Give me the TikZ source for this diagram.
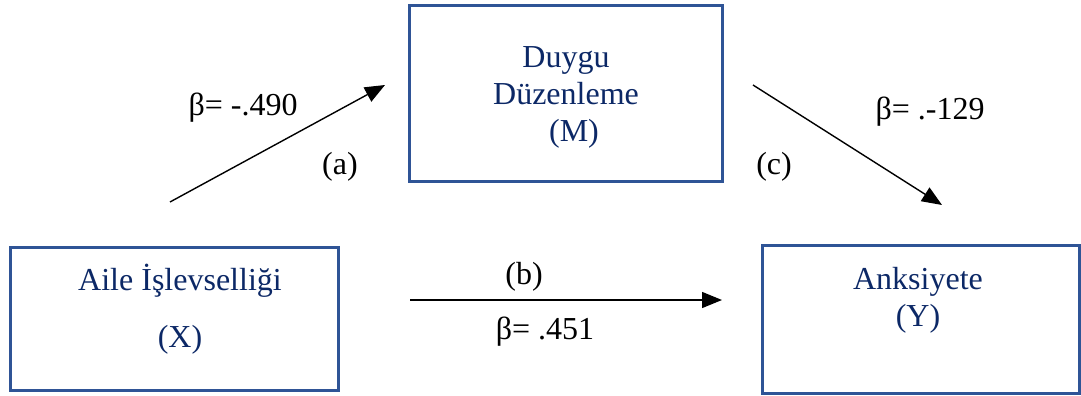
\documentclass[tikz,border=0pt]{standalone}
\usepackage{fontspec}
\setmainfont{Liberation Serif}
\usetikzlibrary{arrows.meta}
\definecolor{boxline}{HTML}{2F5496}
\definecolor{boxtext}{HTML}{0C2866}

\begin{document}
\begin{tikzpicture}[x=0.5pt, y=-0.5pt, every node/.style={font=\fontsize{16}{18.5}\selectfont}, >={Triangle[length=10pt,width=8pt]},
	varbox/.style={draw=boxline, line width=1.5pt, inner sep=0pt},
	vartext/.style={text=boxtext, align=center, inner sep=0pt}]
	\useasboundingbox (0,0) rectangle (1081,396);
	% variables
	\node[varbox, minimum width=156.5pt, minimum height=88pt] (M) at (565.5,93) {};
	\node[varbox, minimum width=164pt, minimum height=71.5pt] (X) at (174,318.5) {};
	\node[varbox, minimum width=158.5pt, minimum height=74pt] (Y) at (920.5,319) {};
	\node[vartext] (Mtext) at (566,97) {Duygu\\Düzenleme\\\hspace{8pt}(M)};
	\node[vartext] (Xtext) at (180,309) {Aile İşlevselliği\\[10pt](X)\hspace{8pt}};
	\node[vartext] (Ytext) at (918,300) {Anksiyete\\(Y)};
	% paths
	\coordinate (a1) at (170,202);
	\coordinate (a2) at (385,85);
	\coordinate (b1) at (410,300);
	\coordinate (b2) at (722,300);
	\coordinate (c1) at (753,85);
	\coordinate (c2) at (942,205);
	\draw[->, line width=0.7pt] (a1) -- (a2);
	\draw[->, line width=0.7pt] (b1) -- (b2);
	\draw[->, line width=0.7pt] (c1) -- (c2);
	\node (betaa) at (243,108) {β= -.490};
	\node (pa) at (340,167) {(a)};
	\node (pb) at (524,277) {(b)};
	\node (betab) at (545,332) {β= .451};
	\node (betac) at (930,112) {β= .-129};
	\node (pc) at (774,167) {(c)};
\end{tikzpicture}
\end{document}
